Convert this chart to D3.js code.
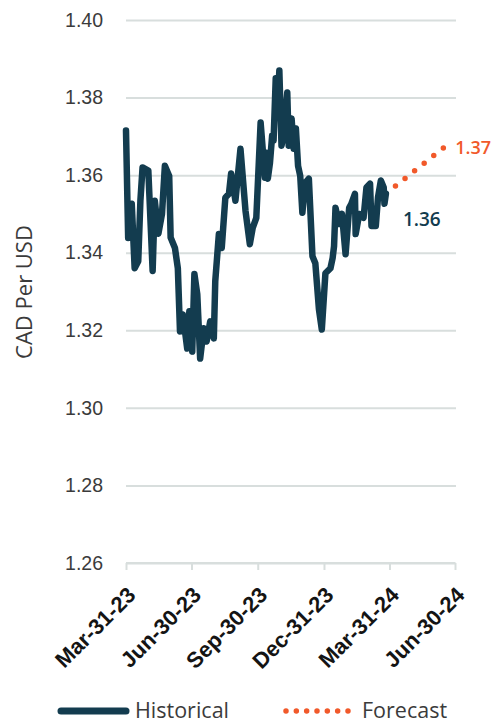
<!DOCTYPE html>
<html lang="en">
<head>
<meta charset="UTF-8">
<title>CAD Per USD</title>
<script src="https://d3js.org/d3.v7.min.js"></script>
<style>
    body { margin: 0; background: #fff; }
    svg { display: block; font-family: "Open Sans", sans-serif; }
</style>
</head>
<body>
<svg id="chart" width="492" height="724"></svg>
<script>
// historical daily series
const histDates = [
    "2023-03-31", "2023-04-03", "2023-04-08", "2023-04-12", "2023-04-17", "2023-04-20", "2023-04-23",
    "2023-05-01", "2023-05-03", "2023-05-07", "2023-05-10", "2023-05-15", "2023-05-20", "2023-05-24",
    "2023-05-30", "2023-06-01", "2023-06-07", "2023-06-11", "2023-06-14", "2023-06-18", "2023-06-24",
    "2023-06-27", "2023-07-01", "2023-07-04", "2023-07-08", "2023-07-12", "2023-07-17", "2023-07-21",
    "2023-07-26", "2023-07-31", "2023-08-02", "2023-08-07", "2023-08-11", "2023-08-16", "2023-08-21",
    "2023-08-24", "2023-08-30", "2023-09-06", "2023-09-13", "2023-09-19", "2023-09-23", "2023-09-28",
    "2023-10-04", "2023-10-10", "2023-10-12", "2023-10-14", "2023-10-17", "2023-10-20", "2023-10-22",
    "2023-10-25", "2023-10-27", "2023-10-30", "2023-11-02", "2023-11-05", "2023-11-10", "2023-11-12",
    "2023-11-16", "2023-11-19", "2023-11-22", "2023-11-25", "2023-11-28", "2023-12-01", "2023-12-05",
    "2023-12-10", "2023-12-15", "2023-12-19", "2023-12-24", "2023-12-28", "2024-01-02", "2024-01-09",
    "2024-01-12", "2024-01-14", "2024-01-16", "2024-01-21", "2024-01-25", "2024-01-30", "2024-02-04",
    "2024-02-07", "2024-02-12", "2024-02-13", "2024-02-18", "2024-02-24", "2024-02-28", "2024-03-04",
    "2024-03-06", "2024-03-12", "2024-03-15", "2024-03-19", "2024-03-23", "2024-03-24", "2024-03-26"
];
const histValues = [
    1.3715, 1.3438, 1.3526, 1.3360, 1.3378, 1.3534, 1.3620,
    1.3612, 1.3526, 1.3353, 1.3534, 1.3449, 1.3500, 1.3624,
    1.3598, 1.3439, 1.3412, 1.3360, 1.3197, 1.3241, 1.3153,
    1.3249, 1.3145, 1.3345, 1.3293, 1.3127, 1.3205, 1.3171,
    1.3223, 1.3179, 1.3327, 1.3448, 1.3412, 1.3542, 1.3552,
    1.3604, 1.3534, 1.3668, 1.3508, 1.3422, 1.3464, 1.3490,
    1.3736, 1.3593, 1.3658, 1.3591, 1.3632, 1.3702, 1.3689,
    1.3850, 1.3754, 1.3870, 1.3676, 1.3702, 1.3813, 1.3676,
    1.3746, 1.3668, 1.3720, 1.3624, 1.3598, 1.3503, 1.3580,
    1.3591, 1.3391, 1.3373, 1.3254, 1.3202, 1.3347, 1.3360,
    1.3386, 1.3417, 1.3516, 1.3474, 1.3500, 1.3396, 1.3516,
    1.3526, 1.3552, 1.3448, 1.3500, 1.3490, 1.3568, 1.3578,
    1.3469, 1.3469, 1.3542, 1.3586, 1.3568, 1.3526, 1.3552
];
// forecast
const fcDates = ["2024-03-26", "2024-06-15"];
const fcValues = [1.3552, 1.3672];

const yTicks = [1.26, 1.28, 1.30, 1.32, 1.34, 1.36, 1.38, 1.40];
const xTickDates = ["2023-03-31", "2023-06-30", "2023-09-30", "2023-12-31", "2024-03-31", "2024-06-30"];
const xTickLabels = ["Mar-31-23", "Jun-30-23", "Sep-30-23", "Dec-31-23", "Mar-31-24", "Jun-30-24"];
const lastLabel = "1.36";
const fcLabel = "1.37";

const parse = d3.timeParse("%Y-%m-%d");
const navy = "#133c4f", orange = "#f1592a", grid = "#d8dedd";

const margin = { top: 20, right: 37, bottom: 161, left: 126 };
const W = 492, H = 724;
const svg = d3.select("#chart");

const x = d3.scaleTime()
    .domain([parse("2023-03-31"), parse("2024-06-30")])
    .range([margin.left, W - margin.right]);
const y = d3.scaleLinear()
    .domain([1.26, 1.40])
    .range([H - margin.bottom, margin.top]);

// gridlines + y labels
const yAxis = svg.append("g")
    .attr("transform", "translate(" + margin.left + ",0)")
    .call(d3.axisLeft(y).tickValues(yTicks).tickFormat(d3.format(".2f"))
        .tickSize(-(W - margin.left - margin.right + 1)).tickPadding(23));
yAxis.select(".domain").remove();
yAxis.selectAll("line").attr("stroke", grid).attr("stroke-width", 2);
yAxis.selectAll("text").attr("fill", "#3b3b3b").style("font-size", "19.5px");

// x axis
const xAxis = svg.append("g")
    .attr("transform", "translate(0," + y(1.26) + ")")
    .call(d3.axisBottom(x).tickValues(xTickDates.map(parse)).tickSize(7)
        .tickFormat((d, i) => xTickLabels[i]));
xAxis.select(".domain").attr("stroke", grid).attr("stroke-width", 2)
    .attr("d", "M" + margin.left + ",0H" + (W - margin.right));
xAxis.selectAll("line").attr("stroke", grid).attr("stroke-width", 2);
xAxis.selectAll("text")
    .attr("fill", "#141414")
    .style("font-size", "22px")
    .style("font-weight", "600")
    .attr("text-anchor", "end")
    .attr("transform", "translate(5,28) rotate(-45)")
    .attr("x", 0).attr("y", 0).attr("dy", "0.35em");

// y title
svg.append("text")
    .attr("transform", "translate(32,292) rotate(-90)")
    .attr("text-anchor", "middle")
    .attr("fill", "#3b3b3b")
    .style("font-size", "22px")
    .text("CAD Per USD");

const line = d3.line().x(d => x(d[0])).y(d => y(d[1]));

// forecast dots
svg.append("path")
    .datum(fcDates.map((d, i) => [parse(d), fcValues[i]]))
    .attr("d", line)
    .attr("fill", "none")
    .attr("stroke", orange)
    .attr("stroke-width", 5.5)
    .attr("stroke-linecap", "round")
    .attr("stroke-dasharray", "0 12.25");

// historical
svg.append("path")
    .datum(histDates.map((d, i) => [parse(d), histValues[i]]))
    .attr("d", line)
    .attr("fill", "none")
    .attr("stroke", navy)
    .attr("stroke-width", 6.5)
    .attr("stroke-linejoin", "round")
    .attr("stroke-linecap", "round");

// end labels
svg.append("text")
    .attr("x", x(parse(histDates[histDates.length - 1])) + 17)
    .attr("y", y(histValues[histValues.length - 1]) + 32)
    .attr("fill", navy).style("font-size", "19px").style("font-weight", "600")
    .text(lastLabel);
svg.append("text")
    .attr("x", x(parse(fcDates[1])) + 11)
    .attr("y", y(fcValues[1]) + 7)
    .attr("fill", orange).style("font-size", "18px").style("font-weight", "600")
    .text(fcLabel);

// legend
const lg = svg.append("g").attr("transform", "translate(0,711)");
lg.append("line").attr("x1", 61).attr("x2", 126).attr("y1", 0).attr("y2", 0)
    .attr("stroke", navy).attr("stroke-width", 7).attr("stroke-linecap", "round");
lg.append("text").attr("x", 135).attr("y", 7).attr("fill", "#3b3b3b")
    .style("font-size", "21.5px").text("Historical");
lg.append("line").attr("x1", 286).attr("x2", 348).attr("y1", 0).attr("y2", 0)
    .attr("stroke", orange).attr("stroke-width", 5.5).attr("stroke-linecap", "round")
    .attr("stroke-dasharray", "0 10.33");
lg.append("text").attr("x", 362).attr("y", 7).attr("fill", "#3b3b3b")
    .style("font-size", "21.5px").text("Forecast");
</script>
</body>
</html>
